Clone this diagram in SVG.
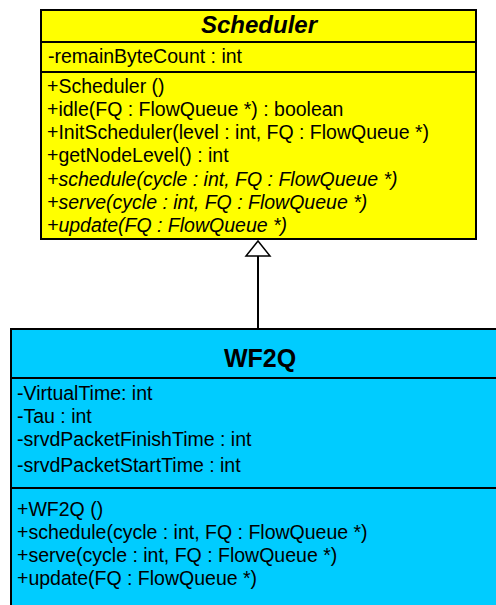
<svg xmlns="http://www.w3.org/2000/svg" width="496" height="605" viewBox="0 0 496 605">
  <style>
    .box { stroke: #000; stroke-width: 2; }
    .sep { stroke: #000; stroke-width: 2; fill: none; }
    .t { font-family: "Liberation Sans", Arial, sans-serif; font-size: 19.5px; fill: #000; }
    .it { font-style: italic; }
    .title { font-family: "Liberation Sans", Arial, sans-serif; font-weight: bold; fill: #000; text-anchor: middle; }
  </style>
  <rect width="496" height="605" fill="#fff"/>

  <!-- Abstract base class -->
  <g id="scheduler">
    <rect class="box" x="41" y="10" width="435" height="229" fill="#ffff00"/>
    <line class="sep" x1="40" y1="42" x2="476" y2="42"/>
    <line class="sep" x1="40" y1="72" x2="476" y2="72"/>
    <text class="title it" x="259" y="33" font-size="24">Scheduler</text>
    <text class="t" x="48" y="63">-remainByteCount : int</text>
    <text class="t" x="47" y="93">+Scheduler ()</text>
    <text class="t" x="47" y="116">+idle(FQ : FlowQueue *) : boolean</text>
    <text class="t" x="47" y="139">+InitScheduler(level : int, FQ : FlowQueue *)</text>
    <text class="t" x="47" y="162">+getNodeLevel() : int</text>
    <text class="t it" x="47" y="186">+schedule(cycle : int, FQ : FlowQueue *)</text>
    <text class="t it" x="47" y="209">+serve(cycle : int, FQ : FlowQueue *)</text>
    <text class="t it" x="47" y="232">+update(FQ : FlowQueue *)</text>
  </g>

  <!-- Derived class -->
  <g id="wf2q">
    <rect class="box" x="11" y="329" width="498" height="290" fill="#00ccff"/>
    <line class="sep" x1="11" y1="378" x2="509" y2="378"/>
    <line class="sep" x1="11" y1="488" x2="509" y2="488"/>
    <text class="title" x="260" y="367" font-size="25">WF2Q</text>
    <text class="t" x="17" y="400">-VirtualTime: int</text>
    <text class="t" x="17" y="423">-Tau : int</text>
    <text class="t" x="17" y="446">-srvdPacketFinishTime : int</text>
    <text class="t" x="17" y="472">-srvdPacketStartTime : int</text>
    <text class="t" x="17" y="516">+WF2Q ()</text>
    <text class="t" x="17" y="539">+schedule(cycle : int, FQ : FlowQueue *)</text>
    <text class="t" x="17" y="562">+serve(cycle : int, FQ : FlowQueue *)</text>
    <text class="t" x="17" y="585">+update(FQ : FlowQueue *)</text>
  </g>

  <!-- Generalization: WF2Q inherits from Scheduler -->
  <g id="connectors">
    <line x1="258" y1="328" x2="258" y2="256" stroke="#000" stroke-width="2"/>
    <polygon points="258,241 246,256 270,256" fill="#fff" stroke="#000" stroke-width="1.5"/>
  </g>
</svg>
